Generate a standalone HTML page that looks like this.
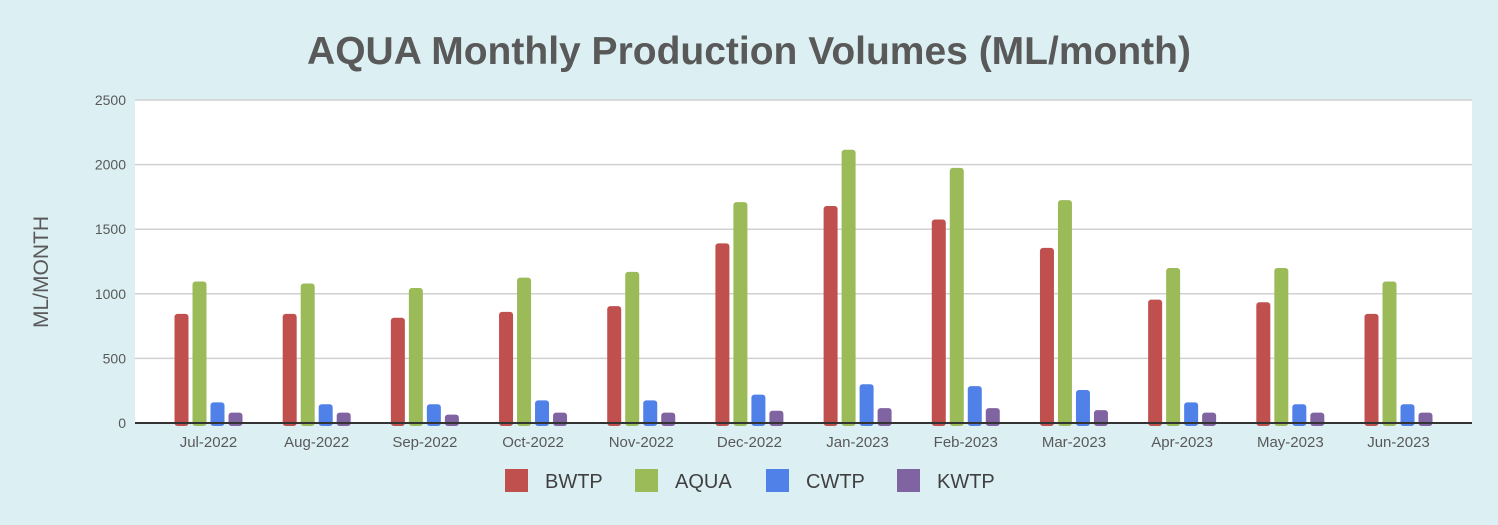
<!DOCTYPE html>
<html><head><meta charset="utf-8"><style>
body{margin:0;width:1498px;height:520px;background:#dcf0f3;font-family:"Liberation Sans",sans-serif;overflow:hidden}
</style></head><body>
<svg id="chart" width="1498" height="520" xmlns="http://www.w3.org/2000/svg">
<text x="749" y="64" text-anchor="middle" font-size="39" font-weight="bold" fill="#595959">AQUA Monthly Production Volumes (ML/month)</text>
<text transform="translate(48,272) rotate(-90)" text-anchor="middle" font-size="21" fill="#595959">ML/MONTH</text>
<rect x="135" y="100" width="1337" height="323" fill="#ffffff"/>
<g id="grid"></g><g id="bars"></g><g id="xlabels"></g><g id="legend"></g>
</svg>
<script>
const categories=["Jul-2022","Aug-2022","Sep-2022","Oct-2022","Nov-2022","Dec-2022","Jan-2023","Feb-2023","Mar-2023","Apr-2023","May-2023","Jun-2023"];
const seriesNames=["BWTP","AQUA","CWTP","KWTP"];
const bwtp=[845,845,815,860,905,1390,1680,1575,1355,955,935,845];
const aqua=[1095,1080,1045,1125,1170,1710,2115,1975,1725,1200,1200,1095];
const cwtp=[160,145,145,175,175,220,300,285,255,160,145,145];
const kwtp=[80,80,65,80,80,95,115,115,100,80,80,80];
const yTicks=[0,500,1000,1500,2000,2500];
const colors=["#c0504d","#9bbb59","#4f81e8","#8064a2"];
const NS="http://www.w3.org/2000/svg";
const L=135,R=1472,T=100,B=423,YMAX=2500;
const y=v=>B-(v/YMAX)*(B-T);
const pad=73.5;
const gw=(R-L-2*pad)/(categories.length-1);
const xc=i=>L+pad+gw*i;
function mk(tag,attrs,parent){const e=document.createElementNS(NS,tag);for(const k in attrs)e.setAttribute(k,attrs[k]);parent.appendChild(e);return e;}
const grid=document.getElementById('grid');
yTicks.forEach(t=>{
  if(t>0){const g=mk('line',{x1:L,x2:R,y1:y(t),y2:y(t),stroke:'#d0d0d0','stroke-width':1.5},grid);
  
  }
  const tx=mk('text',{x:126,y:y(t)+5,'text-anchor':'end','font-size':14,fill:'#595959'},grid);
  tx.textContent=t;
  
  
});
const bars=document.getElementById('bars');
const all=[bwtp,aqua,cwtp,kwtp];
const bw=14,gap=4;
categories.forEach((c,i)=>{
  all.forEach((s,j)=>{
    const x=xc(i)-34+j*(bw+gap);
    const r=mk('rect',{x:x,y:y(s[i]),width:bw,height:B-y(s[i])+3,rx:3,fill:colors[j]},bars);
    
    
  });
  const tx=mk('text',{x:xc(i),y:447,'text-anchor':'middle','font-size':15,fill:'#595959'},document.getElementById('xlabels'));
  tx.textContent=c;
  
  
});
const ax=mk('rect',{x:L,y:B-1,width:R-L,height:2,fill:'#333'},bars);


const lg=document.getElementById('legend');
const lx=[505,635,766,897];
seriesNames.forEach((n,j)=>{
  const g=mk('g',{},lg);
  
  
  mk('rect',{x:lx[j],y:469,width:23,height:23,fill:colors[j]},g);
  const t=mk('text',{x:lx[j]+40,y:488,'font-size':20,fill:'#404040'},g);
  t.textContent=n;
});
</script>
</body></html>
